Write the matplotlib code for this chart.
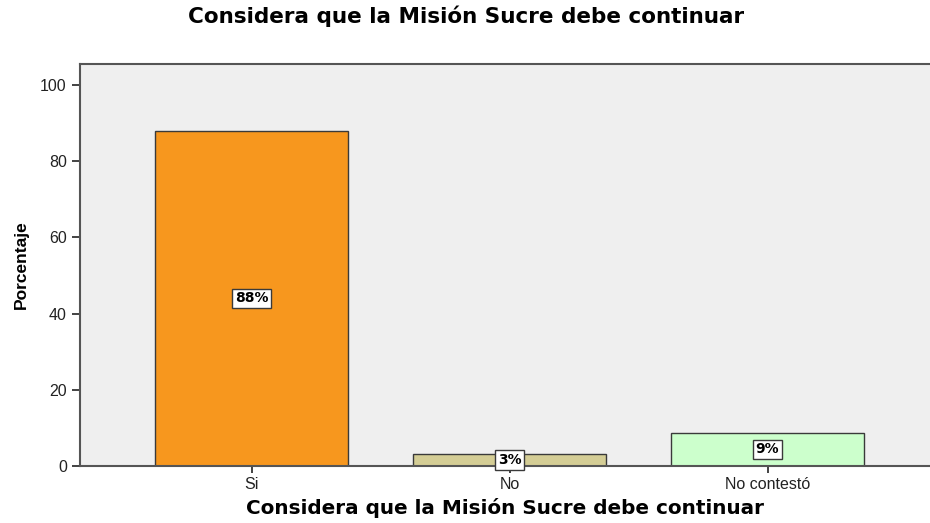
import matplotlib
matplotlib.use('Agg')
import matplotlib.pyplot as plt

# datos
categorias = ['Si', 'No', 'No contestó']
porcentajes = [87.9, 3.1, 8.7]
etiquetas = ['88%', '3%', '9%']
colores = ['#f7971e', '#d4cd95', '#ccffcc']

titulo = 'Considera que la Misión Sucre debe continuar'

plt.rcParams['font.family'] = ['Liberation Sans', 'DejaVu Sans']

fig = plt.figure(figsize=(9.3, 5.23), dpi=100)
ax = fig.add_axes([0.086, 0.109, 0.914, 0.769])
ax.set_facecolor('#efefef')

x = list(range(len(categorias)))
ax.bar(x, porcentajes, width=0.75, color=colores, edgecolor='#3a3a3a', linewidth=1.0, zorder=2)

# etiquetas de porcentaje en el centro de cada barra
for xi, val, lab in zip(x, porcentajes, etiquetas):
    ax.text(xi, val / 2, lab, ha='center', va='center', fontsize=10, fontweight='bold',
            family='DejaVu Sans', zorder=3,
            bbox=dict(boxstyle='square,pad=0.2', facecolor='white', edgecolor='#3a3a3a', linewidth=1.0))

ax.set_xlim(-0.666, 2.63)
ax.set_ylim(0, 105.5)
ax.set_yticks([0, 20, 40, 60, 80, 100])
ax.set_xticks(x)
ax.set_xticklabels(categorias)

for side in ['top', 'left', 'bottom']:
    ax.spines[side].set_color('#555555')
    ax.spines[side].set_linewidth(1.5)
ax.spines['right'].set_visible(False)

ax.tick_params(axis='both', colors='#222222', labelsize=11.5, length=6, width=1.2)
ax.tick_params(axis='x', length=5, pad=3)

ax.set_ylabel('Porcentaje', fontsize=12.5, fontweight='bold', labelpad=8)
ax.set_xlabel(titulo, fontsize=14.4, fontweight='bold', family='DejaVu Sans', labelpad=4)
fig.suptitle(titulo, fontsize=15.5, fontweight='bold', family='DejaVu Sans', x=0.501, y=0.99, va='top')

plt.savefig('out.png', dpi=100)
